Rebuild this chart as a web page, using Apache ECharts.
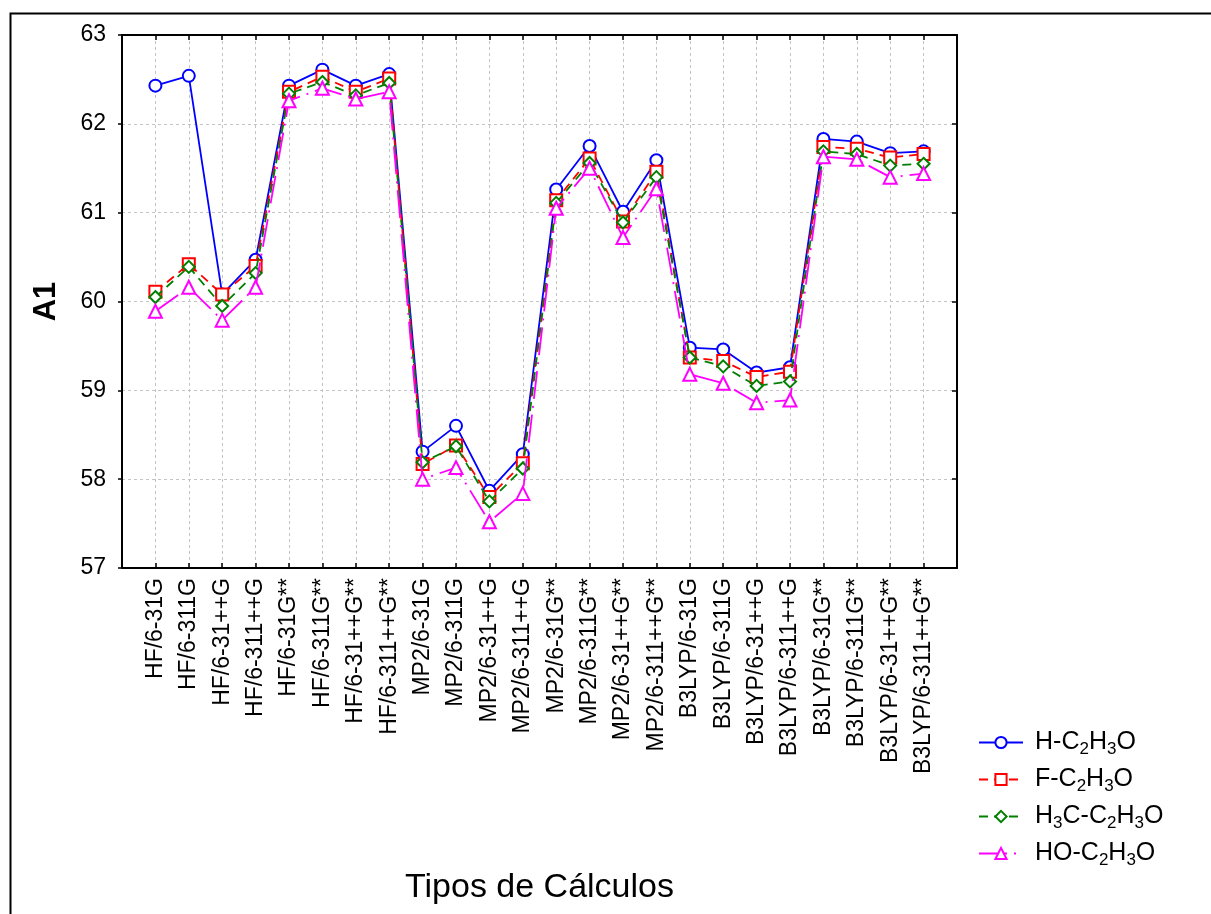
<!DOCTYPE html>
<html>
<head>
<meta charset="utf-8">
<script src="https://cdn.jsdelivr.net/npm/echarts@6/dist/echarts.min.js"></script>
<style>
html,body{margin:0;padding:0;background:#fff;}
#chart{width:1211px;height:914px;}
</style>
</head>
<body>
<div id="chart"></div>
<script>
const categories = ['HF/6-31G','HF/6-311G','HF/6-31++G','HF/6-311++G','HF/6-31G**','HF/6-311G**','HF/6-31++G**','HF/6-311++G**',
  'MP2/6-31G','MP2/6-311G','MP2/6-31++G','MP2/6-311++G','MP2/6-31G**','MP2/6-311G**','MP2/6-31++G**','MP2/6-311++G**',
  'B3LYP/6-31G','B3LYP/6-311G','B3LYP/6-31++G','B3LYP/6-311++G','B3LYP/6-31G**','B3LYP/6-311G**','B3LYP/6-31++G**','B3LYP/6-311++G**'];
const seriesNames = ['H-C2H3O','F-C2H3O','H3C-C2H3O','HO-C2H3O'];
const hValues  = [62.43,62.54,60.08,60.47,62.43,62.61,62.43,62.56, 58.31,58.60,57.87,58.28,61.26,61.75,61.01,61.59, 59.48,59.46,59.20,59.26,61.83,61.80,61.67,61.69];
const fValues  = [60.11,60.42,60.08,60.40,62.36,62.53,62.36,62.51, 58.17,58.38,57.80,58.18,61.14,61.61,60.90,61.46, 59.37,59.33,59.15,59.21,61.74,61.72,61.62,61.66];
const mValues  = [60.05,60.39,59.95,60.32,62.34,62.47,62.32,62.46, 58.19,58.37,57.75,58.12,61.11,61.56,60.89,61.40, 59.37,59.27,59.05,59.10,61.69,61.66,61.53,61.55];
const hoValues = [59.89,60.16,59.79,60.16,62.26,62.40,62.28,62.36, 58.00,58.13,57.52,57.84,61.05,61.50,60.72,61.27, 59.18,59.08,58.86,58.89,61.63,61.60,61.40,61.44];
const yTicks = [57,58,59,60,61,62,63];

const FONT = "'Liberation Sans', Arial, sans-serif";
const chart = echarts.init(document.getElementById('chart'), null, {renderer:'canvas'});

function toPairs(arr){ return arr.map((v,i)=>[i,v]); }

const styles = [
  {color:'#0000ff', symbol:'emptyCircle', size:12, type:'solid'},
  {color:'#ff0000', symbol:'emptyRect', size:12, type:[9,6]},
  {color:'#008000', symbol:'emptyDiamond', size:12, type:[9,6]},
  {color:'#ff00ff', symbol:'emptyTriangle', size:13, type:[28,7,2,7]}
];
const allValues = [hValues, fValues, mValues, hoValues];

const series = seriesNames.map((n,k)=>({
  name:n, type:'line', data:toPairs(allValues[k]),
  symbol:styles[k].symbol, symbolSize:styles[k].size,
  lineStyle:{color:styles[k].color, width:1.8, type:styles[k].type},
  itemStyle:{color:styles[k].color, borderColor:styles[k].color, borderWidth:1.8},
  z: 2+k
}));

const gridLine = {show:true, lineStyle:{color:'#c4c4c4', type:[3,3], width:1}};

chart.setOption({
  animation:false,
  backgroundColor:'#fff',
  grid:{left:122, right:254, top:35, bottom:346},
  graphic:[{type:'rect', left:8, top:11, shape:{width:1230, height:930}, style:{fill:'none', stroke:'#000', lineWidth:2}, silent:true}],
  legend:{
    orient:'vertical', left:973, top:722, itemWidth:44, itemHeight:14, itemGap:6,
    data:seriesNames,
    formatter: name => name.replace(/(\d)/g,'{s|$1}'),
    textStyle:{fontFamily:FONT, fontSize:25, color:'#000', lineHeight:31, padding:[0,0,0,7],
      rich:{s:{fontFamily:FONT, fontSize:17, color:'#000', lineHeight:14, verticalAlign:'bottom'}}}
  },
  xAxis:[{
    type:'value', min:-1, max:24, interval:1, position:'bottom',
    name:'Tipos de Cálculos', nameLocation:'middle', nameGap:303,
    nameTextStyle:{fontFamily:FONT, fontSize:34, color:'#000'},
    axisLine:{show:true, onZero:false, lineStyle:{color:'#000', width:2}},
    axisTick:{show:true, inside:true, length:5, lineStyle:{color:'#000', width:1.5}},
    axisLabel:{rotate:90, margin:10, fontFamily:FONT, fontSize:23, color:'#000',
      formatter: v => (v>=0 && v<categories.length) ? categories[v] : ''},
    splitLine:gridLine
  },{
    type:'value', min:-1, max:24, interval:1, position:'top',
    axisLine:{show:true, onZero:false, lineStyle:{color:'#000', width:2}},
    axisTick:{show:true, inside:true, length:5, lineStyle:{color:'#000', width:1.5}},
    axisLabel:{show:false}, splitLine:{show:false}
  }],
  yAxis:[{
    type:'value', min:57, max:63, interval:1, position:'left',
    name:'A1', nameLocation:'middle', nameGap:60, nameRotate:90,
    nameTextStyle:{fontFamily:FONT, fontSize:31, fontWeight:'bold', color:'#000'},
    axisLine:{show:true, onZero:false, lineStyle:{color:'#000', width:2}},
    axisTick:{show:true, inside:false, length:4, lineStyle:{color:'#000', width:1.5}},
    axisLabel:{margin:16, fontFamily:FONT, fontSize:23, color:'#000',
      formatter: v => yTicks.includes(v) ? String(v) : ''},
    splitLine:gridLine
  },{
    type:'value', min:57, max:63, interval:1, position:'right',
    axisLine:{show:true, onZero:false, lineStyle:{color:'#000', width:2}},
    axisTick:{show:true, inside:true, length:5, lineStyle:{color:'#000', width:1.5}},
    axisLabel:{show:false}, splitLine:{show:false}
  }],
  series: series
});
</script>
</body>
</html>
